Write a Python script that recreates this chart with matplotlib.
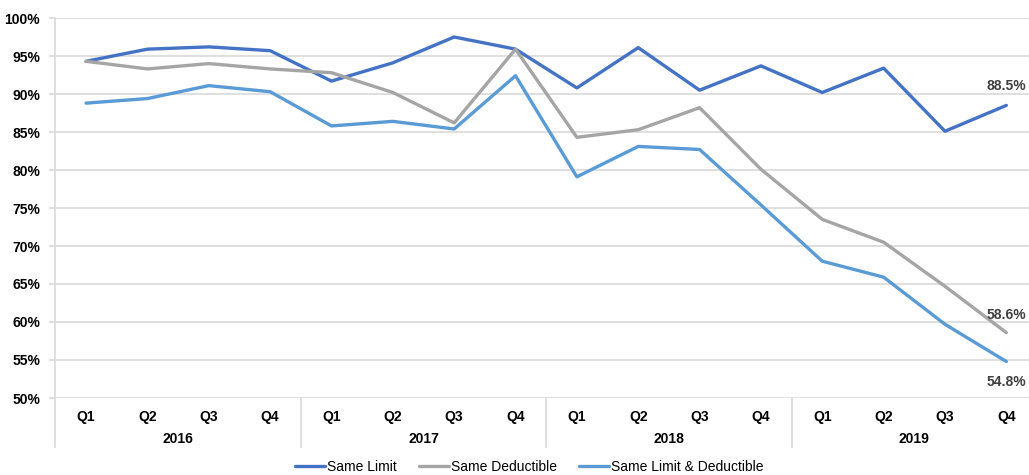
import matplotlib.pyplot as plt
from matplotlib.ticker import FuncFormatter

quarters = ['Q1', 'Q2', 'Q3', 'Q4'] * 4
years = ['2016', '2017', '2018', '2019']

same_limit = [94.3, 95.9, 96.2, 95.7,
              91.7, 94.1, 97.5, 95.9,
              90.8, 96.1, 90.5, 93.7,
              90.2, 93.4, 85.1, 88.5]
same_deductible = [94.3, 93.3, 94.0, 93.3,
                   92.8, 90.2, 86.2, 95.9,
                   84.3, 85.3, 88.2, 80.1,
                   73.5, 70.5, 64.7, 58.6]
same_limit_deductible = [88.8, 89.4, 91.1, 90.3,
                         85.8, 86.4, 85.4, 92.4,
                         79.1, 83.1, 82.7, 75.4,
                         68.0, 65.9, 59.7, 54.8]

plt.rcParams['font.family'] = ['Liberation Sans', 'DejaVu Sans']
fs = 10

fig = plt.figure(figsize=(10.29, 4.75), dpi=100)
ax = fig.add_axes([55.4 / 1029, 1 - 398 / 475, (1037 - 55.4) / 1029, 380 / 475])

x = list(range(len(quarters)))
ax.plot(x, same_limit, color='#4472C4', lw=2.4, label='Same Limit', solid_capstyle='round')
ax.plot(x, same_deductible, color='#A5A5A5', lw=2.4, label='Same Deductible', solid_capstyle='round')
ax.plot(x, same_limit_deductible, color='#5B9BD5', lw=2.4, label='Same Limit & Deductible',
        solid_capstyle='round')

ax.set_xlim(-0.5, len(quarters) - 0.5)
ax.set_ylim(50, 100)
ax.set_yticks(range(50, 101, 5))
ax.yaxis.set_major_formatter(FuncFormatter(lambda v, _: f'{v:.0f}%'))
ax.grid(axis='y', color='#D9D9D9', lw=1.2)
ax.set_axisbelow(True)
for s in ax.spines.values():
    s.set_visible(False)

ax.tick_params(axis='y', length=4, color='#D9D9D9', width=1.2, pad=7,
               labelsize=fs, labelcolor='#000000')
ax.set_xticks(x)
ax.set_xticklabels(quarters)
ax.tick_params(axis='x', length=0, pad=9, labelsize=fs)
for lab in ax.get_xticklabels() + ax.get_yticklabels():
    lab.set_fontweight('bold')

# year groups and separators
trans = ax.get_xaxis_transform()
for i, yr in enumerate(years):
    ax.text(i * 4 + 1.5, -0.108, yr, transform=trans, ha='center', va='center',
            fontsize=fs, fontweight='bold')
for sep in [-0.5, 3.5, 7.5, 11.5]:
    ax.plot([sep, sep], [-0.129, 1 if sep < 0 else 0], transform=trans,
            color='#D9D9D9', lw=1.2, clip_on=False)

# end labels
last = len(quarters) - 1
ax.annotate(f'{same_limit[-1]:.1f}%', (last, same_limit[-1]), xytext=(0, 14),
            textcoords='offset points', ha='center', va='center',
            fontsize=fs, fontweight='bold', color='#404040')
ax.annotate(f'{same_deductible[-1]:.1f}%', (last, same_deductible[-1]), xytext=(0, 13),
            textcoords='offset points', ha='center', va='center',
            fontsize=fs, fontweight='bold', color='#404040')
ax.annotate(f'{same_limit_deductible[-1]:.1f}%', (last, same_limit_deductible[-1]), xytext=(0, -15),
            textcoords='offset points', ha='center', va='center',
            fontsize=fs, fontweight='bold', color='#404040')

fig.legend(loc='center', bbox_to_anchor=(529 / 1029, 1 - 467 / 475), ncol=3, frameon=False,
           fontsize=fs, handlelength=2.2, handletextpad=0.1, columnspacing=1.6)

fig.savefig('out.png', dpi=100)
